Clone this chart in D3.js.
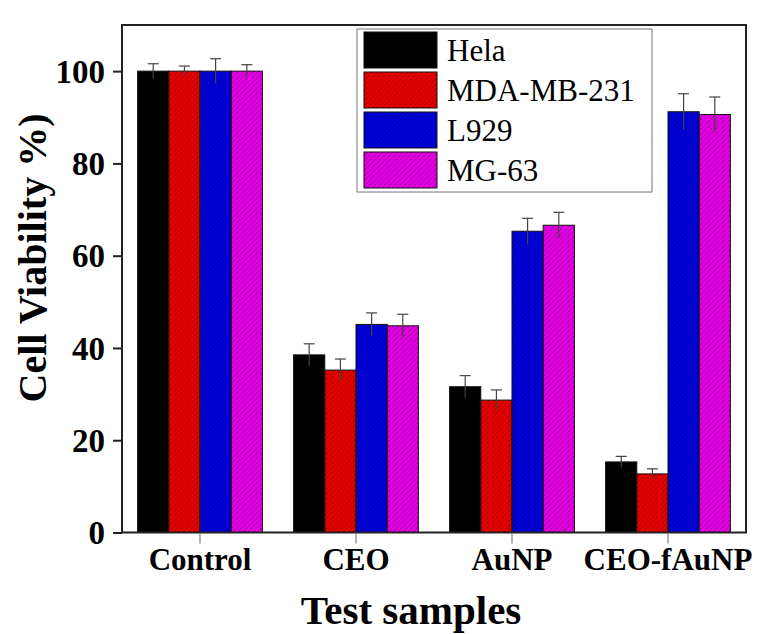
<!DOCTYPE html>
<html><head><meta charset="utf-8">
<script src="https://cdn.jsdelivr.net/npm/d3@7"></script>
<style>body{margin:0;background:#fff}</style>
</head><body><svg id="c" width="758" height="634"></svg>
<script>
const categories = ["Control","CEO","AuNP","CEO-fAuNP"];
const seriesNames = ["Hela","MDA-MB-231","L929","MG-63"];
const hela = [100, 38.5, 31.6, 15.3];
const mda = [100, 35.2, 28.7, 12.7];
const l929 = [100, 45.1, 65.3, 91.2];
const mg63 = [100, 44.8, 66.6, 90.6];
const helaErr = [1.6, 2.4, 2.4, 1.2];
const mdaErr = [1.1, 2.4, 2.2, 1.1];
const l929Err = [2.7, 2.5, 2.8, 3.9];
const mg63Err = [1.4, 2.5, 2.8, 3.8];
const yTicks = [0, 20, 40, 60, 80, 100];
const colors = ["#000000", "#e40000", "#0000dc", "#e200e2"];
const hatchColors = [null, "#a00000", "#00008c", "#a000a0"];

const values = [hela, mda, l929, mg63];
const errors = [helaErr, mdaErr, l929Err, mg63Err];

const svg = d3.select("#c");
const L = 122, R = 746, T = 25, B = 532.5;
const FONT = "'Liberation Serif','Times New Roman',serif";

const x0 = d3.scaleBand().domain(categories).range([L, R]).paddingInner(0.2).paddingOuter(0.1);
const x1 = d3.scaleBand().domain(seriesNames).range([0, x0.bandwidth()]);
const y = d3.scaleLinear().domain([0, 110]).range([B, T]);

const defs = svg.append("defs");
const P = 5;
seriesNames.forEach((s, i) => {
  const p = defs.append("pattern").attr("id", "h" + i)
    .attr("patternUnits", "userSpaceOnUse").attr("width", P).attr("height", P);
  p.append("rect").attr("width", P).attr("height", P).attr("fill", colors[i]);
  if (hatchColors[i]) {
    p.append("path").attr("d", `M0,${P} L${P},0 M-1,1 L1,-1 M${P-1},${P+1} L${P+1},${P-1}`)
      .attr("stroke", hatchColors[i]).attr("stroke-width", 0.9);
  }
});

// bars
const rows = [];
categories.forEach((c, ci) => seriesNames.forEach((s, si) => rows.push({c, s, si, v: values[si][ci], e: errors[si][ci]})));

svg.append("g").selectAll("rect").data(rows).join("rect")
  .attr("x", d => x0(d.c) + x1(d.s))
  .attr("y", d => y(d.v))
  .attr("width", x1.bandwidth())
  .attr("height", d => y(0) - y(d.v))
  .attr("fill", d => `url(#h${d.si})`)
  .attr("stroke", "#111").attr("stroke-width", 1);

// error bars
const eg = svg.append("g").attr("stroke", "#444").attr("stroke-width", 1.2).attr("fill", "none");
rows.forEach(d => {
  const cx = x0(d.c) + x1(d.s) + x1.bandwidth() / 2;
  eg.append("line").attr("x1", cx).attr("x2", cx).attr("y1", y(d.v - d.e)).attr("y2", y(d.v + d.e));
  eg.append("line").attr("x1", cx - 5.5).attr("x2", cx + 5.5).attr("y1", y(d.v + d.e)).attr("y2", y(d.v + d.e));
});

// frame
svg.append("rect").attr("x", L).attr("y", T).attr("width", R - L).attr("height", B - T)
  .attr("fill", "none").attr("stroke", "#222").attr("stroke-width", 2);

// y axis
const ya = svg.append("g").attr("transform", `translate(${L},0)`)
  .call(d3.axisLeft(y).tickValues(yTicks).tickSize(9).tickPadding(8));
ya.select(".domain").remove();
ya.selectAll(".tick line").attr("stroke", "#222").attr("stroke-width", 2);
ya.selectAll(".tick text").attr("font-family", FONT).attr("font-weight", "bold")
  .attr("font-size", 33).attr("fill", "#000").attr("dy", "0.34em");

// x axis
const xa = svg.append("g").attr("transform", `translate(0,${B})`)
  .call(d3.axisBottom(x0).tickSize(11).tickPadding(4));
xa.select(".domain").remove();
xa.selectAll(".tick line").attr("stroke", "#666").attr("stroke-width", 1);
xa.selectAll(".tick text").attr("font-family", FONT).attr("font-weight", "bold")
  .attr("font-size", 31).attr("fill", "#000").attr("dy", "0.72em");

// axis titles
svg.append("text").attr("x", 411).attr("y", 624).attr("text-anchor", "middle")
  .attr("font-family", FONT).attr("font-weight", "bold").attr("font-size", 41).text("Test samples");
svg.append("text").attr("transform", "translate(46,258) rotate(-90)").attr("text-anchor", "middle")
  .attr("font-family", FONT).attr("font-weight", "bold").attr("font-size", 40).text("Cell Viability %)");

// legend
const lg = svg.append("g");
lg.append("rect").attr("x", 357).attr("y", 29).attr("width", 295).attr("height", 163)
  .attr("fill", "#fff").attr("stroke", "#777").attr("stroke-width", 1);
seriesNames.forEach((s, i) => {
  lg.append("rect").attr("x", 364).attr("y", 32 + 40 * i).attr("width", 73).attr("height", 36)
    .attr("fill", `url(#h${i})`).attr("stroke", "#111").attr("stroke-width", 1);
  lg.append("text").attr("x", 447).attr("y", 61 + 40 * i).attr("font-family", FONT)
    .attr("font-size", 31).attr("fill", "#000").text(s);
});
</script></body></html>
